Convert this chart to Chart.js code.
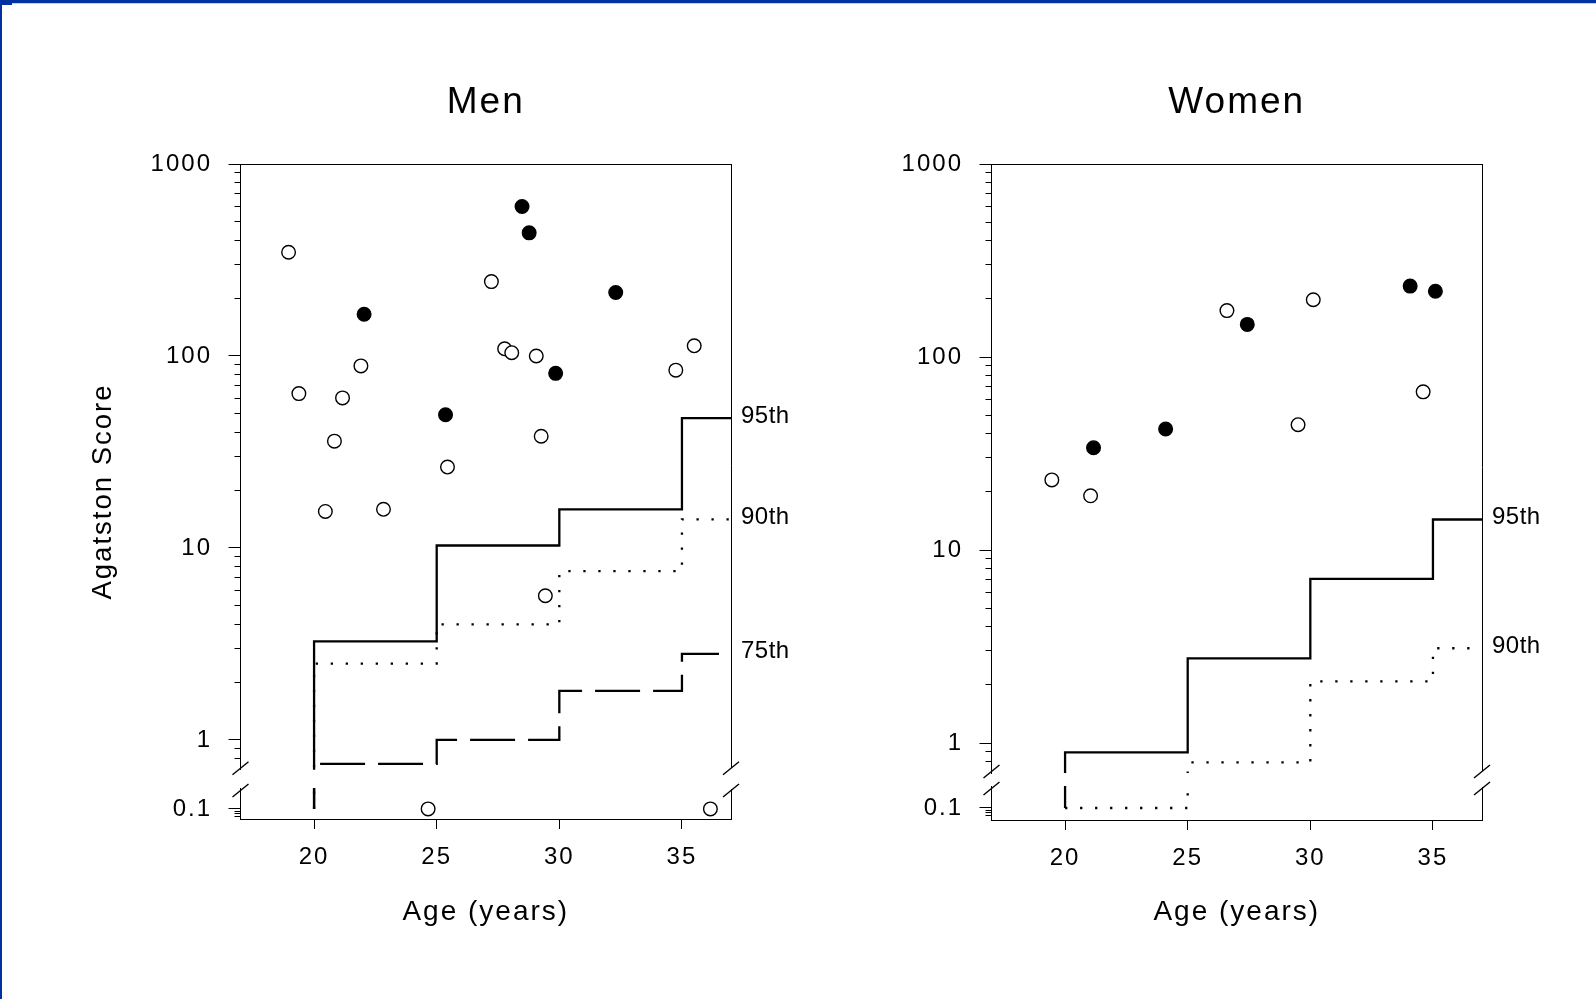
<!DOCTYPE html>
<html>
<head>
<meta charset="utf-8">
<title>Agatston Score by Age</title>
<script src="https://cdn.jsdelivr.net/npm/chart.js@4"></script>
<style>
  html, body { margin: 0; padding: 0; background: #fff; overflow: hidden; }
  #page { position: relative; width: 1596px; height: 999px; }
  canvas { position: absolute; top: 0; }
  .edge-top { position: absolute; left: 0; top: 0; width: 1596px; height: 3px; background: #0033a0; }
  .edge-line { position: absolute; left: 12px; top: 3px; width: 1584px; height: 1px; background: #c3d0ea; }
  .edge-corner { position: absolute; left: 0; top: 0; width: 12px; height: 5px; background: #0033a0; }
  .edge-left { position: absolute; left: 0; top: 0; width: 2px; height: 999px; background: #0033a0; }
</style>
</head>
<body>
<div id="page">
  <canvas id="menChart" width="800" height="999" style="left:0"></canvas>
  <canvas id="womenChart" width="800" height="999" style="left:751px"></canvas>
  <div class="edge-top"></div>
  <div class="edge-line"></div>
  <div class="edge-corner"></div>
  <div class="edge-left"></div>
</div>
<script>
Chart.defaults.font.family = '"Liberation Sans", Arial, Helvetica, sans-serif';
Chart.defaults.color = '#000';

// percentile curves are constant within each 5-year band
const ageBands = [20, 25, 30, 35];
const ageMin = 17;
const ageMax = 37;
const zeroScore = 0.1;   // a score of zero is plotted on the 0.1 line
const upperMin = 0.7;    // bottom of the main (log) part of the axis

const menP95 = [3.26, 10.3, 15.9, 47.5];
const menP90 = [2.5, 4.0, 7.57, 14.1];
const menP75 = [0.75, 1.0, 1.8, 2.81];

const womenP95 = [0.895, 2.75, 7.1, 14.4];
const womenP90 = [0.1, 0.794, 2.09, 3.1];

// individual subjects: open and filled symbols
const menOpenAge = [18.96, 19.38, 20.46, 20.83, 21.16, 21.91, 22.83, 24.65, 25.44, 27.23, 27.77, 28.06, 29.06, 29.26, 29.43, 34.75, 35.5, 36.16];
const menOpenScore = [347, 63.7, 15.5, 36, 60.5, 88.8, 15.9, 0.1, 26.4, 244, 109, 104, 100, 38.2, 5.64, 84.4, 113, 0.1];
const menFilledAge = [22.04, 25.36, 28.48, 28.77, 29.85, 32.3];
const menFilledScore = [165, 49.4, 601, 438, 81.2, 214];

const womenOpenAge = [19.46, 21.04, 26.6, 30.12, 29.5, 34.6];
const womenOpenScore = [23.1, 19.1, 174, 198, 44.6, 66];
const womenFilledAge = [21.16, 24.1, 27.43, 34.07, 35.1];
const womenFilledScore = [33.9, 42.4, 147.6, 233, 219];

// axis ticks
const xTicks = [20, 25, 30, 35];
const yLabelled = [1, 10, 100, 1000];
const yLowLabelled = [0.1];
const minorSteps = [2, 3, 4, 5, 6, 7, 8, 9];
const upperExtraTicks = [0.8, 0.9];
const lowTicks = [0.07, 0.08, 0.09, 0.1];

const upperTicks = upperExtraTicks.slice();
[1, 10, 100].forEach(d => {
  upperTicks.push(d);
  minorSteps.forEach(m => upperTicks.push(Number((d * m).toPrecision(6))));
});
upperTicks.push(1000);

const isLabelled = v => yLabelled.includes(v) || yLowLabelled.includes(v);

function stepLine(values) {
  const pts = [{x: ageBands[0], y: zeroScore}];
  values.forEach((v, i) => pts.push({x: ageBands[i], y: v}));
  pts.push({x: ageMax, y: values[values.length - 1]});
  return pts;
}

// each curve is drawn on both parts of the broken axis; clipping keeps each part in its box
function percentileSets(values, dash) {
  return ['y', 'yLow'].map(axis => ({
    type: 'line',
    data: stepLine(values),
    yAxisID: axis,
    stepped: 'before',
    borderColor: '#000',
    borderWidth: 2.3,
    borderDash: dash,
    borderCapStyle: 'butt',
    pointRadius: 0,
    fill: false
  }));
}

function scoreSets(ages, scores, filled) {
  const pts = ages.map((a, i) => ({x: a, y: scores[i]}));
  return [
    {axis: 'y', data: pts.filter(p => p.y >= upperMin)},
    {axis: 'yLow', data: pts.filter(p => p.y < upperMin)}
  ].map(s => ({
    type: 'scatter',
    data: s.data,
    yAxisID: s.axis,
    showLine: false,
    pointRadius: 6.8,
    pointBorderWidth: 1.4,
    pointBackgroundColor: filled ? '#000' : '#fff',
    pointBorderColor: '#000'
  }));
}

const frame = {
  id: 'frame',
  beforeDraw(chart) {
    chart.ctx.letterSpacing = '2px';
  },
  afterDraw(chart, args, opts) {
    const {ctx, chartArea: a, scales} = chart;
    const up = scales.y, low = scales.yLow;
    ctx.save();
    ctx.strokeStyle = '#000';
    ctx.lineWidth = 1;
    const line = (x1, y1, x2, y2) => {
      ctx.beginPath(); ctx.moveTo(x1, y1); ctx.lineTo(x2, y2); ctx.stroke();
    };
    const r = Math.round(a.right) + 0.5;
    line(a.left, Math.round(a.top) + 0.5, r, Math.round(a.top) + 0.5);
    line(r, up.top, r, up.bottom - 2);
    line(r, low.top + 1, r, low.bottom);
    // axis break marks
    ctx.lineWidth = 1.4;
    [a.left, a.right].forEach(x => {
      line(x - 8, up.bottom + 5, x + 8, up.bottom - 8);
      line(x - 8, low.top + 9, x + 8, low.top - 4);
    });
    // percentile names at the right end of each curve
    ctx.letterSpacing = '0.5px';
    ctx.fillStyle = '#000';
    ctx.font = '24px "Liberation Sans", Arial, sans-serif';
    ctx.textAlign = 'left';
    ctx.textBaseline = 'middle';
    opts.labels.forEach(l => {
      ctx.fillText(l.text, a.right + 10, up.getPixelForValue(l.values[l.values.length - 1]) - 2);
    });
    ctx.restore();
  }
};

function fixWidth(w) { return s => { s.width = w; }; }
function fixHeight(h) { return s => { s.height = h; }; }

const tickGrid = {
  drawOnChartArea: false,
  drawTicks: true,
  tickLength: 12,
  tickColor: '#000',
  tickWidth: 1,
  tickBorderDash: [12, 6],
  tickBorderDashOffset: ctx => (ctx.tick && isLabelled(ctx.tick.value)) ? 0 : 12
};

function makeChart(id, p) {
  return new Chart(document.getElementById(id), {
    type: 'scatter',
    data: {datasets: p.datasets},
    plugins: [frame],
    options: {
      responsive: false,
      animation: false,
      events: [],
      devicePixelRatio: 1,
      layout: {padding: {left: 0, right: 69, top: 0, bottom: 0}},
      plugins: {
        legend: {display: false},
        tooltip: {enabled: false},
        title: {
          display: true,
          text: p.title,
          fullSize: false,
          font: {size: 37, weight: 'normal'},
          padding: {top: 80.6, bottom: 39}
        },
        frame: {labels: p.labels}
      },
      scales: {
        x: {
          type: 'linear',
          position: 'bottom',
          min: ageMin,
          max: ageMax,
          afterBuildTicks: s => { s.ticks = xTicks.map(v => ({value: v})); },
          afterFit: fixHeight(p.xHeight),
          ticks: {font: {size: 24}, padding: 14.4, callback: v => String(v)},
          grid: {drawOnChartArea: false, drawTicks: true, tickLength: 10, tickColor: '#000'},
          border: {display: true, color: '#000', width: 1},
          title: {display: true, text: 'Age (years)', font: {size: 28}, padding: {top: 0, bottom: 70.2}}
        },
        yTitle: {
          type: 'linear',
          position: 'left',
          weight: 10,
          afterFit: fixWidth(150),
          ticks: {display: false},
          grid: {display: false},
          border: {display: false},
          title: {display: p.yTitle, text: 'Agatston Score', font: {size: 27.5}, padding: {top: 87.3, bottom: 0}}
        },
        y: {
          type: 'logarithmic',
          position: 'left',
          stack: 'score',
          stackWeight: p.upperH,
          weight: 3,
          min: upperMin,
          max: 1000,
          afterBuildTicks: s => { s.ticks = upperTicks.map(v => ({value: v})); },
          afterFit: fixWidth(90.5),
          ticks: {font: {size: 24}, padding: 16.5, autoSkip: false,
            callback: v => yLabelled.includes(v) ? String(v) : ''},
          grid: tickGrid,
          border: {display: true, color: '#000', width: 1}
        },
        yGap: {
          type: 'linear',
          position: 'left',
          stack: 'score',
          stackWeight: p.gapH,
          weight: 2,
          afterFit: fixWidth(90.5),
          ticks: {display: false},
          grid: {display: false},
          border: {display: false}
        },
        yLow: {
          type: 'logarithmic',
          position: 'left',
          stack: 'score',
          stackWeight: p.lowH,
          weight: 1,
          min: p.lowMin,
          max: p.lowMax,
          afterBuildTicks: s => { s.ticks = lowTicks.map(v => ({value: v})); },
          afterFit: fixWidth(90.5),
          ticks: {font: {size: 24}, padding: 16.5, autoSkip: false,
            callback: v => yLowLabelled.includes(v) ? String(v) : ''},
          grid: tickGrid,
          border: {display: true, color: '#000', width: 1}
        }
      }
    }
  });
}

makeChart('menChart', {
  title: 'Men',
  yTitle: true,
  upperH: 605.7, gapH: 18.3, lowH: 31, lowMin: 0.063, lowMax: 0.26, xHeight: 180,
  labels: [
    {text: '95th', values: menP95},
    {text: '90th', values: menP90},
    {text: '75th', values: menP75}
  ],
  datasets: [
    ...scoreSets(menFilledAge, menFilledScore, true),
    ...scoreSets(menOpenAge, menOpenScore, false),
    ...percentileSets(menP95, []),
    ...percentileSets(menP90, [2.3, 12.7]),
    ...percentileSets(menP75, [45, 13])
  ]
});

makeChart('womenChart', {
  title: 'Women',
  yTitle: false,
  upperH: 609, gapH: 13, lowH: 34, lowMin: 0.0575, lowMax: 0.275, xHeight: 179,
  labels: [
    {text: '95th', values: womenP95},
    {text: '90th', values: womenP90}
  ],
  datasets: [
    ...scoreSets(womenFilledAge, womenFilledScore, true),
    ...scoreSets(womenOpenAge, womenOpenScore, false),
    ...percentileSets(womenP95, []),
    ...percentileSets(womenP90, [2.3, 12.7])
  ]
});
</script>
</body>
</html>
